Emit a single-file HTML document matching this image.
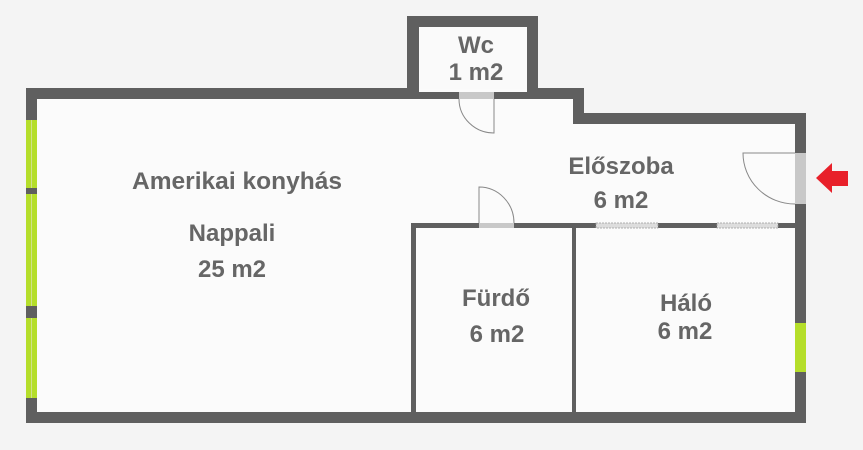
<!DOCTYPE html>
<html><head><style>
html,body{margin:0;padding:0;background:#f5f5f5;}
svg{display:block;}
text{font-family:"Liberation Sans",sans-serif;font-weight:bold;fill:#666;text-anchor:middle;}
</style></head><body>
<svg width="863" height="450" viewBox="0 0 863 450" xmlns="http://www.w3.org/2000/svg">
<rect width="863" height="450" fill="#f4f4f4"/>
<polygon points="37,99 419,99 419,89 527,89 527,99 573,99 573,124 795,124 795,412 37,412" fill="#fbfbfb"/>
<rect x="419" y="27" width="108" height="62" fill="#fafafa"/>
<g fill="#5f5f5f">
<rect x="26" y="88" width="393" height="11"/>
<rect x="26" y="88" width="11" height="335"/>
<rect x="26" y="412" width="780" height="11"/>
<rect x="795" y="113" width="11" height="310"/>
<rect x="573" y="113" width="233" height="11"/>
<rect x="573" y="88" width="11" height="36"/>
<rect x="527" y="88" width="57" height="11"/>
<rect x="407" y="16" width="131" height="11"/>
<rect x="407" y="16" width="12" height="83"/>
<rect x="527" y="16" width="11" height="83"/>
<rect x="419" y="92" width="108" height="7"/>
<rect x="411" y="223" width="384" height="5"/>
<rect x="411" y="223" width="5" height="190"/>
<rect x="572" y="223" width="4" height="190"/>
</g>
<rect x="459" y="92" width="35" height="7" fill="#c8c8c8"/>
<path d="M494,99 L494,133 A35,34 0 0 1 459,99" fill="none" stroke="#888" stroke-width="1"/>
<rect x="479" y="223" width="35" height="5" fill="#c8c8c8"/>
<path d="M479,223 L479,187 A35,36 0 0 1 514,223" fill="none" stroke="#888" stroke-width="1"/>
<rect x="795" y="153" width="11" height="51" fill="#c8c8c8"/>
<path d="M795,153 L743,153 A52,51 0 0 0 795,204" fill="none" stroke="#888" stroke-width="1"/>
<rect x="596" y="223" width="62" height="5" fill="#ddd" stroke="#999" stroke-width="0.8" stroke-dasharray="2,1"/>
<rect x="717" y="223" width="61" height="5" fill="#ddd" stroke="#999" stroke-width="0.8" stroke-dasharray="2,1"/>
<g fill="#b5de2a">
<rect x="26" y="120" width="11" height="68"/>
<rect x="26" y="194" width="11" height="112"/>
<rect x="26" y="318" width="11" height="80"/>
<rect x="795" y="323" width="11" height="49"/>
</g>
<g stroke="#cfe08a" stroke-width="1">
<line x1="31.5" y1="120" x2="31.5" y2="188"/><line x1="31.5" y1="194" x2="31.5" y2="306"/><line x1="31.5" y1="318" x2="31.5" y2="398"/>
</g>
<polygon points="816,178 832,163 832,171 848,171 848,186 832,186 832,193" fill="#e8202a"/>
<text x="237" y="189" font-size="24" textLength="210" lengthAdjust="spacingAndGlyphs">Amerikai konyhás</text>
<text x="232" y="241" font-size="24">Nappali</text>
<text x="232" y="277" font-size="24">25 m2</text>
<text x="476" y="53" font-size="24">Wc</text>
<text x="476" y="80" font-size="24">1 m2</text>
<text x="621" y="174" font-size="24">Előszoba</text>
<text x="621" y="208" font-size="24">6 m2</text>
<text x="496" y="306" font-size="24">Fürdő</text>
<text x="497" y="342" font-size="24">6 m2</text>
<text x="686" y="311" font-size="24">Háló</text>
<text x="685" y="339" font-size="24">6 m2</text>
</svg>
</body></html>
